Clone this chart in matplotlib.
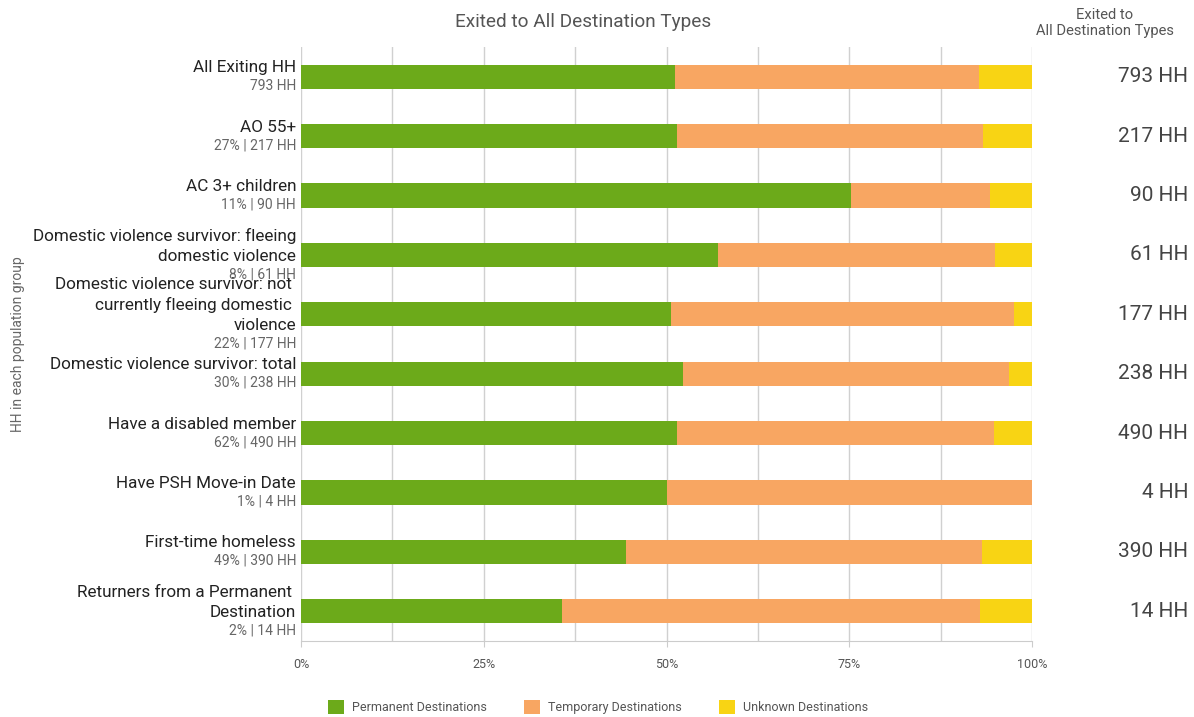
import matplotlib
matplotlib.use("Agg")
import matplotlib.pyplot as plt
import numpy as np
from matplotlib.patches import Patch

# Daten
gruppen = [
    ["All Exiting HH"],
    ["AO 55+"],
    ["AC 3+ children"],
    ["Domestic violence survivor: fleeing", "domestic violence"],
    ["Domestic violence survivor: not ", "currently fleeing domestic ", "violence"],
    ["Domestic violence survivor: total"],
    ["Have a disabled member"],
    ["Have PSH Move-in Date"],
    ["First-time homeless"],
    ["Returners from a Permanent ", "Destination"],
]
unterzeilen = ["793 HH", "27% | 217 HH", "11% | 90 HH", "8% | 61 HH", "22% | 177 HH",
               "30% | 238 HH", "62% | 490 HH", "1% | 4 HH", "49% | 390 HH", "2% | 14 HH"]
hh_werte = ["793 HH", "217 HH", "90 HH", "61 HH", "177 HH",
            "238 HH", "490 HH", "4 HH", "390 HH", "14 HH"]

permanent = [51.2, 51.5, 75.3, 57.1, 50.6, 52.3, 51.5, 50.0, 44.5, 35.7]
temporary = [41.5, 41.8, 19.0, 37.8, 46.9, 44.5, 43.3, 50.0, 48.6, 57.2]
unknown = [100 - p - t for p, t in zip(permanent, temporary)]

serien = ["Permanent Destinations", "Temporary Destinations", "Unknown Destinations"]
farben = ["#6CAA1A", "#F8A662", "#F8D414"]

plt.rcParams['font.family'] = ['Roboto', 'DejaVu Sans']

fig = plt.figure(figsize=(11.94, 7.17), dpi=100)
ax = fig.add_axes([301/1194, 1 - 641/717, 731/1194, 594/717])

y = np.arange(len(gruppen))
links = np.zeros(len(gruppen))
for werte, farbe in zip([permanent, temporary, unknown], farben):
    ax.barh(y, werte, left=links, height=0.41, color=farbe, zorder=2)
    links = links + np.array(werte)

ax.set_xlim(0, 100)
ax.set_ylim(len(gruppen) - 0.5, -0.5)
ax.set_xticks([0, 25, 50, 75, 100])
ax.set_xticklabels(["0%", "25%", "50%", "75%", "100%"])
ax.set_xticks(np.arange(0, 101, 12.5), minor=True)
ax.tick_params(axis='x', which='major', length=4, color='#cccccc', labelsize=9, labelcolor='#555555', pad=8)
ax.tick_params(axis='x', which='minor', length=0)
ax.set_yticks([])
ax.grid(axis='x', which='both', color='#d0d0d0', linewidth=1, zorder=0)
for s in ['top', 'right', 'left']:
    ax.spines[s].set_visible(False)
ax.spines['bottom'].set_color('#cccccc')

# Beschriftungen links
px = 0.72  # Punkte pro Pixel
for i, zeilen in enumerate(gruppen):
    n = len(zeilen)
    gesamt = (n - 1) * 20.5 + 18
    start = -gesamt / 2
    for k, z in enumerate(zeilen):
        dy = start + k * 20.5
        ax.annotate(z, xy=(0, i), xycoords=('axes fraction', 'data'),
                    xytext=(-5 * px, -dy * px), textcoords='offset points',
                    ha='right', va='center', fontsize=12.3, color='#222222')
    dy = start + (n - 1) * 20.5 + 18
    ax.annotate(unterzeilen[i], xy=(0, i), xycoords=('axes fraction', 'data'),
                xytext=(-5 * px, -dy * px), textcoords='offset points',
                ha='right', va='center', fontsize=10, color='#666666')
    ax.annotate(hh_werte[i], xy=(1, i), xycoords=('axes fraction', 'data'),
                xytext=((1188 - 1032) * px, 0), textcoords='offset points',
                ha='right', va='center', fontsize=15, color='#444444')

fig.text(18/1194, 1 - 344/717, "HH in each population group", rotation=90,
         ha='center', va='center', fontsize=10, color='#666666')
fig.text(583/1194, 1 - 22/717, "Exited to All Destination Types",
         ha='center', va='center', fontsize=13.7, color='#555555')
fig.text(1105/1194, 1 - 23/717, "Exited to\nAll Destination Types",
         ha='center', va='center', fontsize=10.6, color='#555555', linespacing=1.2)

handles = [Patch(facecolor=f, label=s) for f, s in zip(farben, serien)]
fig.legend(handles=handles, loc='center', bbox_to_anchor=(598/1194, 1 - 707/717), ncol=3,
           frameon=False, fontsize=9, labelcolor='#555555', handlelength=1.3, handleheight=1.3,
           handletextpad=0.6, columnspacing=3.0)

plt.savefig('out.png', dpi=100)
